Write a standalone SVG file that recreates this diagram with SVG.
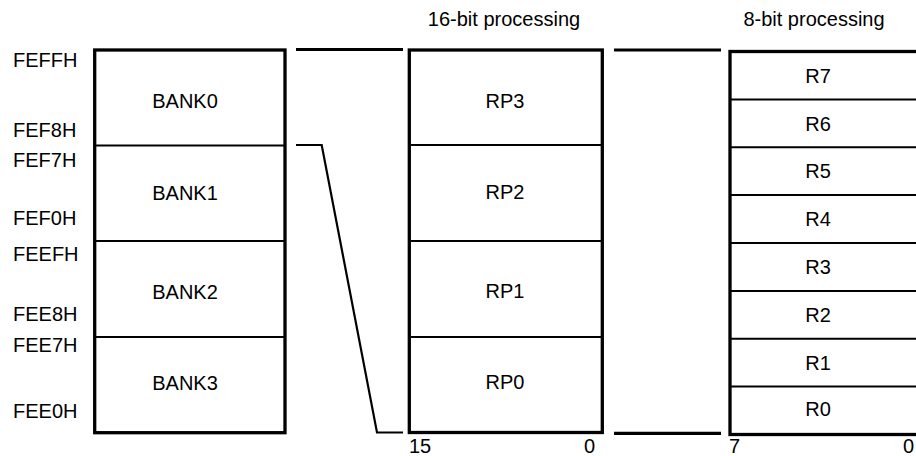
<svg xmlns="http://www.w3.org/2000/svg" width="916" height="456" viewBox="0 0 916 456">
<style>
text{font-family:"Liberation Sans",Arial,sans-serif;font-size:20px;fill:#000}
.c{text-anchor:middle}
.e{text-anchor:end}
.box{fill:#fff;stroke:#000;stroke-width:3.3}
.div{stroke:#000;stroke-width:2;fill:none}
.con{stroke:#000;fill:none;stroke-linejoin:miter}
</style>
<rect width="916" height="456" fill="#fff"/>
<g id="titles">
<text class="c" x="504" y="26">16-bit processing</text>
<text class="c" x="814" y="26">8-bit processing</text>
</g>
<g id="addresses">
<text x="13" y="67">FEFFH</text>
<text x="13" y="137">FEF8H</text>
<text x="13" y="167">FEF7H</text>
<text x="13" y="225">FEF0H</text>
<text x="13" y="261">FEEFH</text>
<text x="13" y="321">FEE8H</text>
<text x="13" y="352">FEE7H</text>
<text x="13" y="418">FEE0H</text>
</g>
<g id="connectors">
<path class="con" stroke-width="3" d="M296 49.5H403"/>
<path class="con" stroke-width="2.2" d="M296 145H321.7L377 432.5H403"/>
<path class="con" stroke-width="3.2" d="M614 50H721"/>
<path class="con" stroke-width="3.2" d="M614 433.3H721"/>
</g>
<g id="banks">
<rect class="box" x="94.7" y="50" width="190.3" height="382.7"/>
<g id="bank0"><text class="c" x="185" y="108">BANK0</text></g>
<g id="bank1"><path class="div" d="M94.7 145.5H285"/><text class="c" x="185" y="200">BANK1</text></g>
<g id="bank2"><path class="div" d="M94.7 241H285"/><text class="c" x="185" y="299">BANK2</text></g>
<g id="bank3"><path class="div" d="M94.7 337H285"/><text class="c" x="185" y="390">BANK3</text></g>
</g>
<g id="regpairs">
<rect class="box" x="409.3" y="50" width="193" height="382.5"/>
<g id="rp3"><text class="c" x="505" y="108">RP3</text></g>
<g id="rp2"><path class="div" d="M409.3 145H602.3"/><text class="c" x="505" y="199">RP2</text></g>
<g id="rp1"><path class="div" d="M409.3 241H602.3"/><text class="c" x="505" y="298">RP1</text></g>
<g id="rp0"><path class="div" d="M409.3 337H602.3"/><text class="c" x="505" y="389">RP0</text></g>
</g>
<g id="regs">
<rect class="box" x="730" y="51.5" width="200" height="383"/>
<g id="r7"><text class="c" x="818" y="83">R7</text></g>
<g id="r6"><path class="div" d="M730 99.4H920"/><text class="c" x="818" y="131">R6</text></g>
<g id="r5"><path class="div" d="M730 147.3H920"/><text class="c" x="818" y="178">R5</text></g>
<g id="r4"><path class="div" d="M730 195.1H920"/><text class="c" x="818" y="226">R4</text></g>
<g id="r3"><path class="div" d="M730 243H920"/><text class="c" x="818" y="274">R3</text></g>
<g id="r2"><path class="div" d="M730 290.9H920"/><text class="c" x="818" y="322">R2</text></g>
<g id="r1"><path class="div" d="M730 338.8H920"/><text class="c" x="818" y="370">R1</text></g>
<g id="r0"><path class="div" d="M730 386.6H920"/><text class="c" x="818" y="416">R0</text></g>
</g>
<g id="bits">
<text x="409" y="453">15</text>
<text class="e" x="595" y="453">0</text>
<text x="729" y="453">7</text>
<text class="e" x="914" y="453">0</text>
</g>
</svg>
